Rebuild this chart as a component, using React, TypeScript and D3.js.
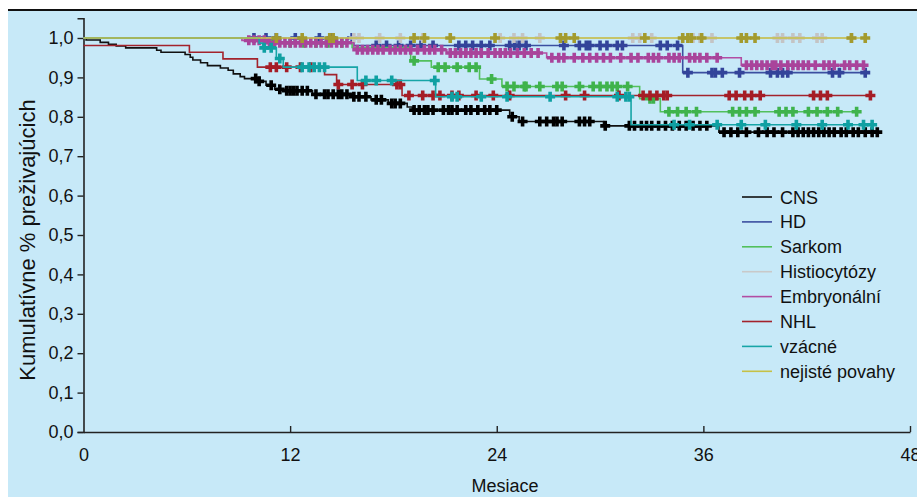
import React, { useEffect, useRef } from "react";
import * as d3 from "d3";

const monthTicks = [0, 12, 24, 36, 48];
const survTicks = [0, 0.1, 0.2, 0.3, 0.4, 0.5, 0.6, 0.7, 0.8, 0.9, 1.0];

const seriesNames = ["CNS", "HD", "Sarkom", "Histiocytózy", "Embryonální", "NHL", "vzácné", "nejisté povahy"];
const lineColors = ["#111111", "#3b4fa0", "#52c05c", "#c9c9c9", "#b24da3", "#a3232c", "#17a5a7", "#c6c147"];
const markColors = ["#000000", "#33449a", "#3fb34c", "#c4c4c4", "#a9449b", "#a51d26", "#0fa0a2", "#a39b2e"];

// [month, survival after step]
const cnsSteps = [
  [0, 1.0], [0.15, 0.995], [0.97, 0.989], [1.45, 0.984], [1.9, 0.98], [2.45, 0.975], [4.25, 0.969],
  [4.5, 0.964], [5.9, 0.958], [6.2, 0.951], [6.35, 0.944], [6.8, 0.937], [7.2, 0.93], [7.95, 0.924],
  [8.4, 0.918], [8.7, 0.909], [9.1, 0.902], [9.35, 0.897], [10.2, 0.89], [10.6, 0.88], [11.1, 0.87],
  [11.6, 0.866], [13.3, 0.857], [15.6, 0.851], [16.7, 0.843], [17.7, 0.834], [18.8, 0.825],
  [19.1, 0.817], [24.75, 0.8], [25.3, 0.788], [30.2, 0.777], [36.9, 0.761],
];
const cnsCensored = [
  10.0, 10.2, 10.9, 11.4, 11.8, 12.0, 12.2, 12.4, 12.7, 13.0, 13.5, 14.0, 14.2, 14.5, 14.8, 15.0, 15.3,
  15.7, 16.0, 16.4, 17.0, 17.3, 17.9, 18.1, 18.4, 19.2, 19.5, 19.8, 20.0, 20.3, 20.9, 21.2, 21.4, 21.7,
  22.2, 22.5, 22.9, 23.3, 23.6, 24.0, 24.9, 25.5, 26.5, 26.9, 27.3, 27.5, 27.8, 28.8, 29.1, 29.4, 30.3,
  31.7, 32.0, 32.4, 32.7, 33.0, 33.4, 33.8, 34.2, 34.6, 35.0, 35.4, 35.8, 36.2, 37.2, 37.6, 38.0, 38.5,
  39.2, 39.7, 40.1, 40.6, 41.2, 41.5, 41.8, 42.1, 42.4, 42.7, 43.0, 43.3, 43.6, 44.0, 44.3, 44.7, 45.0,
  45.4, 45.8, 46.1,
];

const hdSteps = [[0, 1.0], [15.7, 0.981], [34.8, 0.912]];
const hdCensored = [
  9.9, 10.6, 11.2, 12.3, 13.7, 14.4, 15.6, 17.0, 17.6, 18.3, 19.0, 19.6, 20.3, 21.8, 22.2, 22.6, 23.1,
  23.6, 24.75, 25.05, 25.3, 25.7, 27.9, 28.8, 29.2, 29.4, 30.0, 30.4, 31.0, 31.3, 33.5, 33.9, 34.5,
  35.1, 36.5, 36.7, 37.1, 38.1, 39.9, 40.3, 40.6, 40.9, 43.5, 43.9, 45.4,
];

const sarkomSteps = [
  [0, 1.0], [10.5, 0.988], [15.6, 0.976], [19.0, 0.942], [20.2, 0.926], [23.0, 0.896], [24.3, 0.877],
  [32.3, 0.846], [33.5, 0.813],
];
const sarkomCensored = [
  11.0, 12.0, 12.8, 13.5, 14.2, 15.0, 19.2, 20.6, 21.0, 21.7, 22.4, 22.8, 23.7, 24.6, 25.0, 25.6, 25.7,
  26.5, 27.5, 27.8, 28.8, 29.6, 30.0, 30.4, 30.7, 31.0, 31.6, 32.9, 33.1, 34.0, 34.5, 35.0, 35.6, 37.7,
  38.1, 38.5, 39.0, 40.4, 40.8, 41.2, 42.1, 42.6, 43.2, 43.8, 44.9,
];

const histioSteps = [[0, 1.0]];
const histioCensored = [
  15.7, 16.0, 17.2, 18.4, 19.7, 24.2, 25.0, 25.5, 26.5, 31.9, 32.3, 33.0, 35.4, 35.8, 36.5, 40.3, 40.6,
  41.2, 41.6, 42.6, 42.9, 44.6,
];

const embrySteps = [
  [0, 1.0], [9.2, 0.994], [10.6, 0.988], [15.7, 0.97], [21.1, 0.962], [26.9, 0.95], [38.2, 0.931],
];
const embryCensored = [
  9.6, 9.9, 10.2, 10.5, 10.8, 11.1, 11.4, 11.7, 12.0, 12.3, 12.6, 12.9, 13.2, 13.5, 13.8, 14.1, 14.4,
  14.7, 15.0, 15.3, 15.9, 16.2, 16.5, 16.8, 17.1, 17.4, 17.8, 18.1, 18.4, 18.7, 19.0, 19.4, 19.8, 20.1,
  20.4, 20.8, 21.3, 21.6, 21.9, 22.2, 22.5, 22.8, 23.1, 23.5, 23.9, 24.2, 24.5, 24.8, 25.2, 25.6, 26.0,
  26.4, 27.2, 27.6, 27.9, 28.5, 29.0, 29.4, 29.8, 30.2, 30.6, 31.2, 31.8, 32.2, 32.8, 33.1, 33.4, 34.0,
  34.3, 34.6, 35.2, 35.5, 35.8, 36.2, 36.8, 38.5, 38.8, 39.1, 39.4, 39.7, 40.0, 40.2, 40.5, 40.9, 41.2,
  41.5, 41.8, 42.1, 42.5, 43.0, 43.3, 43.6, 44.2, 44.5, 44.9, 45.3,
];

const nhlSteps = [
  [0, 0.981], [6.15, 0.964], [8.1, 0.947], [10.1, 0.926], [14.0, 0.907], [14.7, 0.882], [18.5, 0.854],
];
const nhlCensored = [
  10.85, 11.2, 11.8, 12.6, 13.2, 14.8, 15.6, 16.2, 18.2, 18.4, 18.9, 19.7, 20.3, 20.7, 21.4, 21.8, 22.8,
  23.8, 24.75, 28.0, 29.1, 31.1, 32.5, 32.9, 33.3, 33.7, 33.9, 37.5, 37.9, 38.4, 38.8, 39.3, 42.4, 42.8,
  43.2, 45.7,
];

const vzacneSteps = [
  [0, 1.0], [10.2, 0.987], [10.4, 0.975], [11.2, 0.948], [11.6, 0.926], [15.9, 0.892], [20.45, 0.851],
  [31.8, 0.78],
];
const vzacneCensored = [
  10.5, 10.9, 11.4, 12.7, 13.1, 13.4, 13.7, 14.0, 16.4, 17.0, 17.9, 20.4, 21.4, 21.7, 23.1, 24.6, 27.1,
  31.0, 31.5, 31.7, 34.3, 35.2, 36.8, 38.2, 39.6, 41.4, 42.9, 44.4, 45.3, 45.8,
];

const nejisteSteps = [[0, 1.0]];
const nejisteCensored = [
  11.2, 12.7, 14.3, 14.5, 19.2, 19.8, 21.3, 23.9, 27.7, 28.0, 28.5, 32.6, 34.8, 35.1, 35.3, 35.9, 38.2,
  38.5, 39.0, 44.6, 45.4,
];

const allSteps = [cnsSteps, hdSteps, sarkomSteps, histioSteps, embrySteps, nhlSteps, vzacneSteps, nejisteSteps];
const allCensored = [cnsCensored, hdCensored, sarkomCensored, histioCensored, embryCensored, nhlCensored, vzacneCensored, nejisteCensored];

const survAt = (steps, t) => {
  let v = steps[0][1];
  for (const [m, s] of steps) if (m <= t) v = s;
  return v;
};

const KaplanMeier = () => {
  const ref = useRef(null);

  useEffect(() => {
    const width = 917;
    const height = 497;
    const font = "'Liberation Sans', Arial, sans-serif";

    const svg = d3.select(ref.current).attr("width", width).attr("height", height);
    svg.selectAll("*").remove();

    svg.append("rect").attr("width", width).attr("height", height).attr("fill", "#ffffff");
    svg.append("rect").attr("x", 8).attr("y", 11).attr("width", width - 8).attr("height", height - 11)
      .attr("fill", "#c7e9f8");
    svg.append("line").attr("x1", 8).attr("x2", width).attr("y1", 10).attr("y2", 10)
      .attr("stroke", "#111").attr("stroke-width", 2);

    const x = d3.scaleLinear().domain([0, 48]).range([83.5, 910]);
    const y = d3.scaleLinear().domain([0, 1.05]).range([432, 18.3]);

    const comma = d3.formatLocale({ decimal: ",", thousands: " ", grouping: [3], currency: ["", ""] }).format(".1f");

    // osi
    const yAxis = svg.append("g").attr("transform", `translate(${x(0)},0)`)
      .call(d3.axisLeft(y).tickValues(survTicks).tickSize(6).tickPadding(4).tickFormat(comma));
    const xAxis = svg.append("g").attr("transform", `translate(0,${y(0)})`)
      .call(d3.axisBottom(x).tickValues(monthTicks).tickSizeInner(-6).tickSizeOuter(0).tickPadding(16));
    [yAxis, xAxis].forEach((g) => {
      g.select(".domain").attr("stroke", "#222").attr("stroke-width", 1.6);
      g.selectAll(".tick line").attr("stroke", "#222").attr("stroke-width", 1.4);
      g.selectAll(".tick text").attr("font-family", font).attr("font-size", 18).attr("fill", "#111");
    });
    xAxis.selectAll(".tick").filter((d) => d === 0).select("line").remove();

    svg.append("text")
      .attr("transform", `translate(35,${240}) rotate(-90)`)
      .attr("text-anchor", "middle")
      .attr("font-family", font).attr("font-size", 22).attr("fill", "#111")
      .text("Kumulatívne % preživajúcich");

    svg.append("text")
      .attr("x", 505).attr("y", 492)
      .attr("text-anchor", "middle")
      .attr("font-family", font).attr("font-size", 18).attr("fill", "#111")
      .text("Mesiace");

    // krivky
    const line = d3.line().x((d) => x(d[0])).y((d) => y(d[1])).curve(d3.curveStepAfter);
    const cross = "M-5,0H5M0,-5V5";

    seriesNames.forEach((name, i) => {
      const steps = allSteps[i];
      const cens = allCensored[i];
      const end = Math.max(d3.max(cens), steps[steps.length - 1][0]);
      const pts = steps.concat([[end, steps[steps.length - 1][1]]]);

      svg.append("path").attr("d", line(pts)).attr("fill", "none")
        .attr("stroke", lineColors[i]).attr("stroke-width", 1.6);

      svg.append("g").selectAll("path").data(cens).join("path")
        .attr("d", cross)
        .attr("transform", (t) => `translate(${x(t)},${y(survAt(steps, t))})`)
        .attr("stroke", markColors[i]).attr("stroke-width", 3.6).attr("fill", "none");
    });

    // legenda
    const legend = svg.append("g");
    seriesNames.forEach((name, i) => {
      const ly = 197 + i * 24.9;
      legend.append("line").attr("x1", 742).attr("x2", 772).attr("y1", ly).attr("y2", ly)
        .attr("stroke", lineColors[i]).attr("stroke-width", 1.6);
      legend.append("text").attr("x", 780).attr("y", ly + 6.5)
        .attr("font-family", font).attr("font-size", 18).attr("fill", "#111")
        .text(name);
    });
  }, []);

  return <svg ref={ref} style={{ position: "absolute", left: 0, top: 0 }}></svg>;
};

export default function App() {
  return <KaplanMeier />;
}
